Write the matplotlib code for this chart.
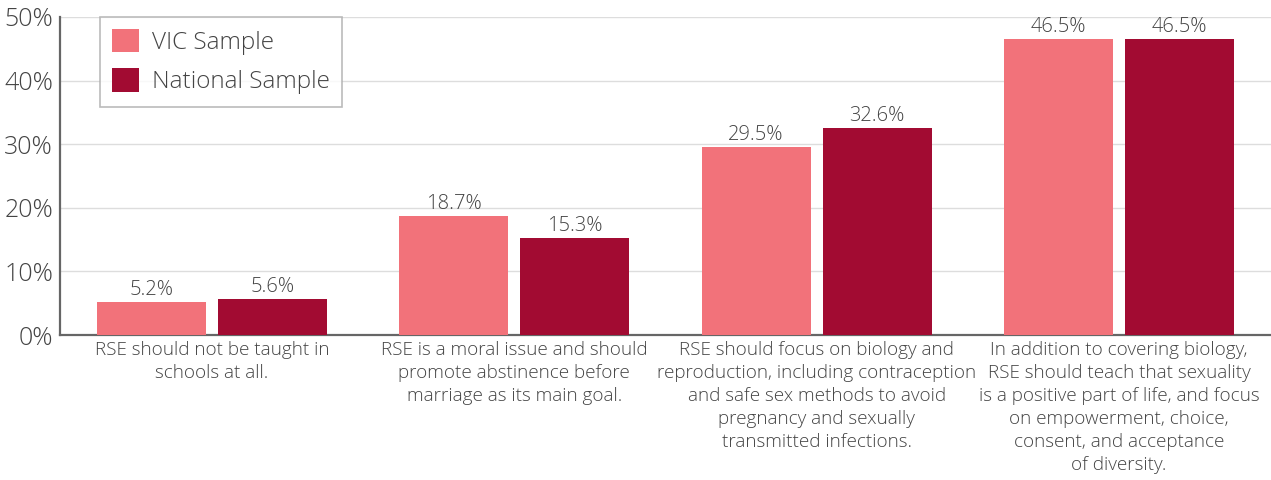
import numpy as np
import matplotlib.pyplot as plt
from matplotlib.ticker import PercentFormatter

# data
categories = [
    "RSE should not be taught in\nschools at all.",
    "RSE is a moral issue and should\npromote abstinence before\nmarriage as its main goal.",
    "RSE should focus on biology and\nreproduction, including contraception\nand safe sex methods to avoid\npregnancy and sexually\ntransmitted infections.",
    "In addition to covering biology,\nRSE should teach that sexuality\nis a positive part of life, and focus\non empowerment, choice,\nconsent, and acceptance\nof diversity.",
]
vic = [5.2, 18.7, 29.5, 46.5]
national = [5.6, 15.3, 32.6, 46.5]
series_names = ["VIC Sample", "National Sample"]

plt.rcParams['font.family'] = ['Open Sans', 'DejaVu Sans']
plt.rcParams['font.weight'] = 'light'
txt = "#444444"

fig = plt.figure(figsize=(12.71, 4.8), dpi=100)
ax = fig.add_axes([0.0472, 0.302, 0.9528, 0.6626])

x = np.arange(len(categories))
w = 0.36
b1 = ax.bar(x - 0.2, vic, w, color="#F2727A", label=series_names[0], zorder=3)
b2 = ax.bar(x + 0.2, national, w, color="#A20B32", label=series_names[1], zorder=3)

for bars in (b1, b2):
    for r in bars:
        ax.annotate(f"{r.get_height():.1f}%", (r.get_x() + r.get_width() / 2, r.get_height()),
                    xytext=(0, 1.5), textcoords="offset points", ha="center", va="bottom",
                    fontsize=14.5, color=txt)

ax.set_xlim(-0.503, 3.503)
ax.set_ylim(0, 50)
ax.set_yticks(np.arange(0, 51, 10))
ax.yaxis.set_major_formatter(PercentFormatter(decimals=0))
ax.set_xticks(x)
ax.set_xticklabels(categories, fontsize=13.6, color=txt, linespacing=1.36)
ax.tick_params(axis="y", labelsize=18, colors=txt, length=0, pad=5)
ax.tick_params(axis="x", length=0, pad=4.5)
ax.grid(axis="y", color="#dddddd", linewidth=1, zorder=0)
for s in ["top", "right"]:
    ax.spines[s].set_visible(False)
for s in ["left", "bottom"]:
    ax.spines[s].set_color("#666666")
    ax.spines[s].set_linewidth(1.6)

leg = ax.legend(loc="upper left", bbox_to_anchor=(0.033, 1.0), borderaxespad=0, fontsize=17.5,
                frameon=True, fancybox=False, edgecolor="#aaaaaa", handlelength=1.1,
                handleheight=1.1, labelspacing=0.55, borderpad=0.5, handletextpad=0.55)
for t in leg.get_texts():
    t.set_color(txt)
leg.get_frame().set_linewidth(1.2)

fig.savefig("out.png", dpi=100)
